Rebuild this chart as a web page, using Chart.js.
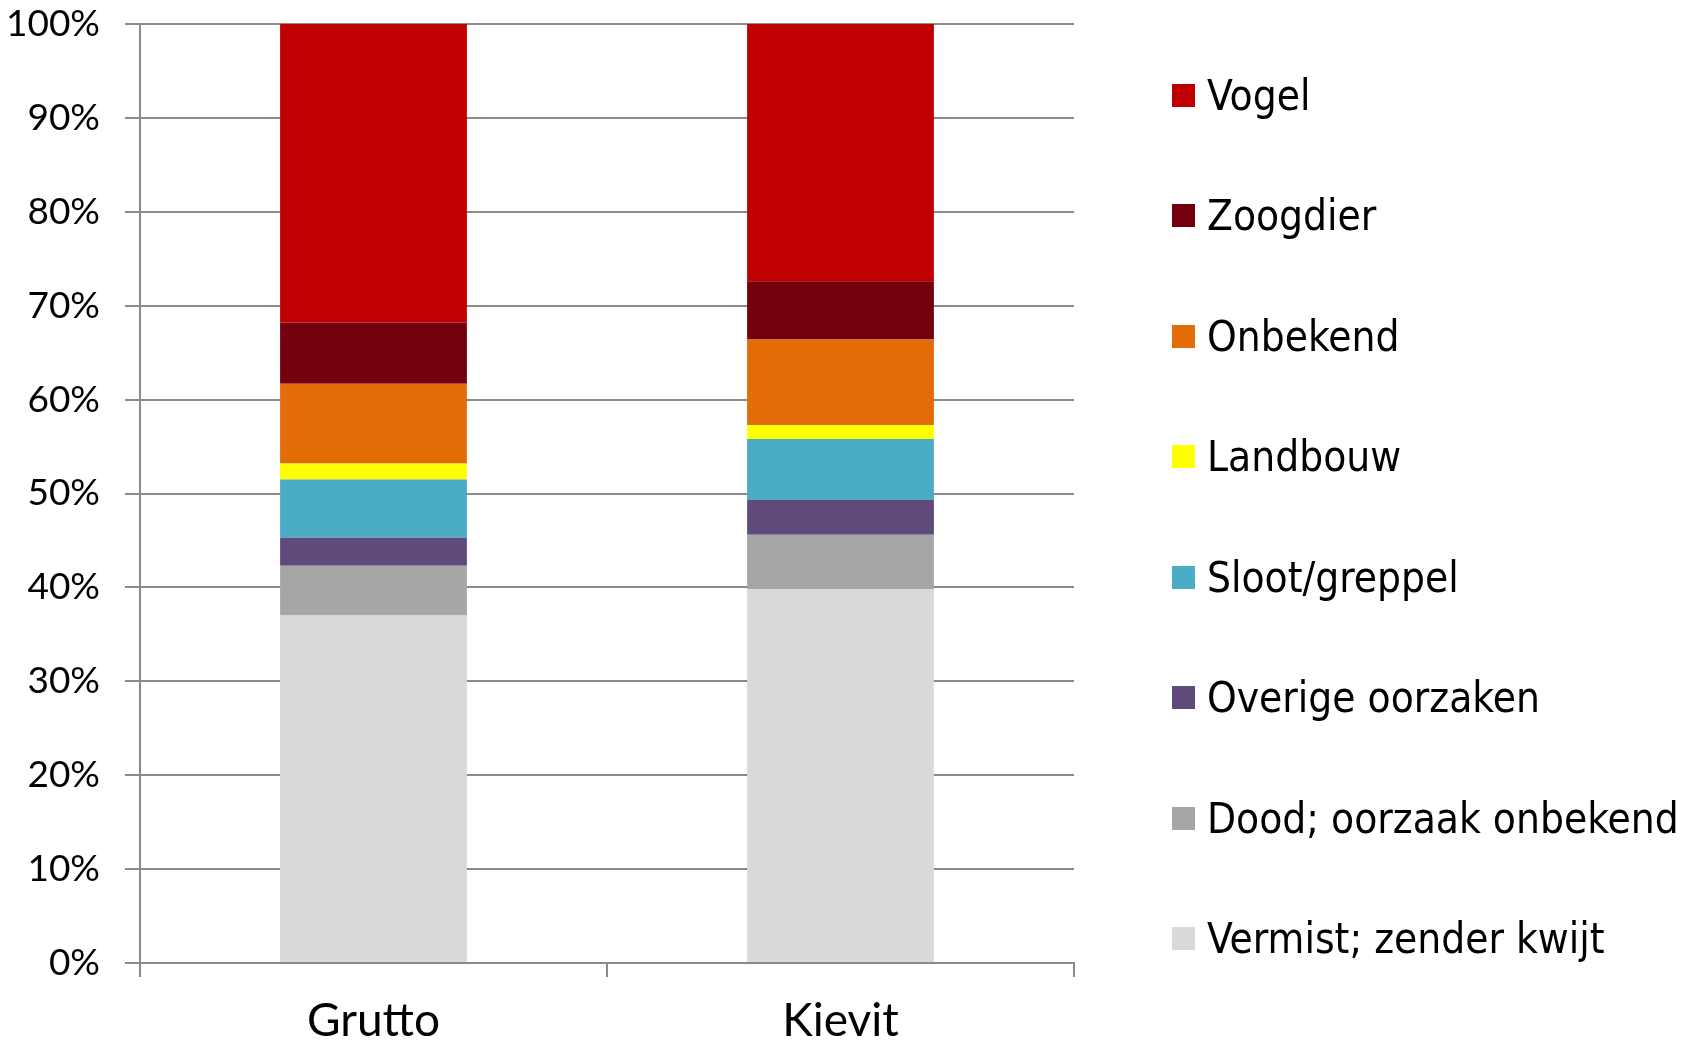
<!DOCTYPE html>
<html>
<head>
<meta charset="utf-8">
<script src="https://cdn.jsdelivr.net/npm/chart.js@4.4.1/dist/chart.umd.min.js"></script>
<style>
  html, body { margin: 0; padding: 0; background: #ffffff; }
  #wrap { position: relative; width: 1692px; height: 1044px; overflow: hidden; }
  #c { position: absolute; left: 0; top: 0; }
  #legend { position: absolute; left: 0; top: 0; width: 1692px; height: 1044px; pointer-events: none; }
  .item { position: absolute; display: flex; align-items: center; height: 50px; white-space: nowrap;
          font-family: 'DejaVu Sans Condensed', 'DejaVu Sans', sans-serif; font-stretch: condensed;
          font-size: 42px; color: #000; }
  .box { width: 23px; height: 23px; margin-right: 12px; flex: 0 0 auto; }
</style>
</head>
<body>
<div id="wrap">
  <canvas id="c" width="1692" height="1044"></canvas>
  <div id="legend"></div>
</div>
<script>
// ---- data (percent of birds per fate) ----
const categories = ['Grutto', 'Kievit'];
const seriesLabels = ['Vermist; zender kwijt', 'Dood; oorzaak onbekend', 'Overige oorzaken',
                      'Sloot/greppel', 'Landbouw', 'Onbekend', 'Zoogdier', 'Vogel'];
const vermist  = [37.0, 39.8];
const dood     = [5.3, 5.8];
const overige  = [3.0, 3.7];
const sloot    = [6.2, 6.5];
const landbouw = [1.7, 1.5];
const onbekend = [8.5, 9.1];
const zoogdier = [6.5, 6.2];
const vogel    = [31.8, 27.4];
const yTicks = [0, 10, 20, 30, 40, 50, 60, 70, 80, 90, 100];

const seriesValues = [vermist, dood, overige, sloot, landbouw, onbekend, zoogdier, vogel];
const seriesColors = ['#D9D9D9', '#A6A6A6', '#604A7B', '#4BACC6', '#FFFF00', '#E36C09', '#72000D', '#C00000'];

const gridColor = '#8A8A8A';

const datasets = seriesLabels.map((lab, i) => ({
  label: lab,
  data: seriesValues[i],
  backgroundColor: seriesColors[i],
  borderWidth: 0,
  categoryPercentage: 1.0,
  barPercentage: 0.4
}));

new Chart(document.getElementById('c'), {
  type: 'bar',
  data: { labels: categories, datasets: datasets },
  options: {
    responsive: false,
    animation: false,
    devicePixelRatio: 1,
    layout: { padding: { top: 24, right: 618, left: 0, bottom: 0 } },
    plugins: { legend: { display: false }, tooltip: { enabled: false } },
    scales: {
      x: {
        stacked: true,
        afterFit: (s) => { s.height = 81; s.paddingLeft = 0; s.paddingRight = 0; },
        grid: { offset: true, drawOnChartArea: false, drawTicks: true, tickLength: 14,
                color: gridColor, lineWidth: 2 },
        border: { display: true, color: gridColor, width: 2 },
        ticks: { color: '#000', padding: 17,
                 font: { family: "Lato, 'Open Sans', sans-serif", size: 46 } }
      },
      y: {
        stacked: true,
        min: 0, max: 100,
        afterFit: (s) => { s.width = 140; s.paddingTop = 0; s.paddingBottom = 0; },
        afterBuildTicks: (s) => { s.ticks = yTicks.map(v => ({ value: v })); },
        grid: { drawOnChartArea: true, drawTicks: true, tickLength: 15,
                color: gridColor, lineWidth: 2 },
        border: { display: true, color: gridColor, width: 2 },
        ticks: { color: '#000', padding: 25,
                 callback: (v) => v + '%',
                 font: { family: "Lato, sans-serif", size: 37 } }
      }
    }
  }
});

// ---- legend (top entry = top segment) ----
const legend = document.getElementById('legend');
const firstRowCenter = 95, rowGap = 120.5, legendLeft = 1172;
for (let k = 0; k < seriesLabels.length; k++) {
  const i = seriesLabels.length - 1 - k;
  const row = document.createElement('div');
  row.className = 'item';
  row.style.left = legendLeft + 'px';
  row.style.top = (firstRowCenter + k * rowGap - 25) + 'px';
  const box = document.createElement('span');
  box.className = 'box';
  box.style.background = seriesColors[i];
  const txt = document.createElement('span');
  txt.textContent = seriesLabels[i];
  row.appendChild(box);
  row.appendChild(txt);
  legend.appendChild(row);
}
</script>
</body>
</html>
